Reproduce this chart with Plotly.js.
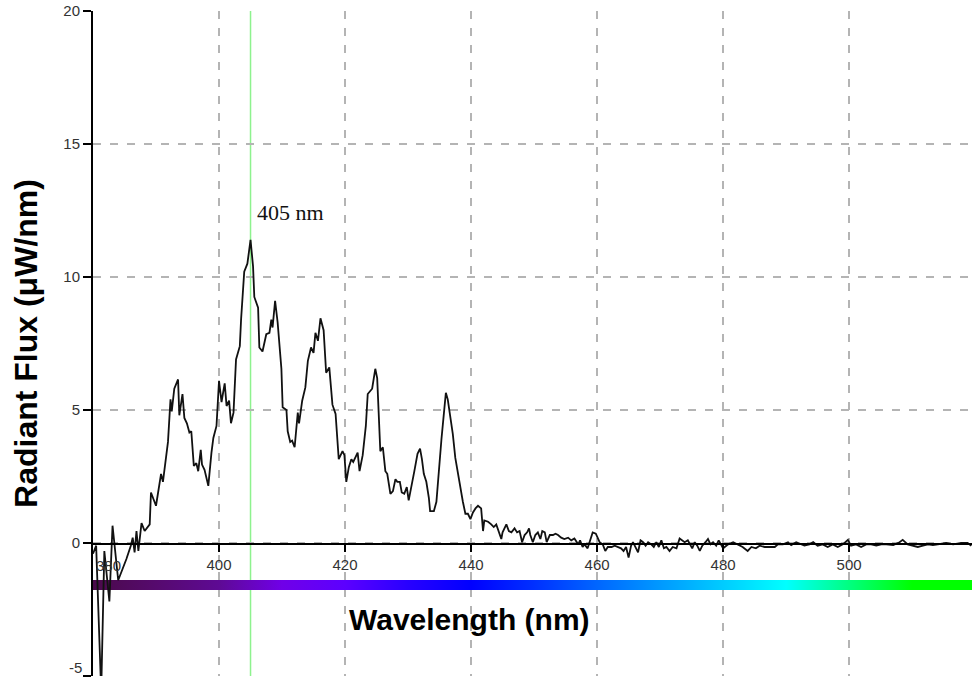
<!DOCTYPE html>
<html>
<head>
<meta charset="utf-8">
<script src="https://cdn.plot.ly/plotly-3.0.1.min.js"></script>
<style>html,body{margin:0;padding:0;background:#fff;}#chart{width:973px;height:678px;}</style>
</head>
<body>
<div id="chart"></div>
<script>
// Spectrum samples (nm, µW/nm)
const wavelength = [
380.0,380.5,381.3,381.8,382.6,383.1,384.0,384.7,385.3,386.0,386.3,386.6,386.9,387.2,387.7,388.2,389.0,389.2,390.0,390.8,
391.1,391.9,392.3,392.5,392.9,393.5,393.7,394.2,394.5,394.9,395.3,395.6,396.0,396.4,396.7,397.1,397.3,397.7,398.3,398.8,
399.1,399.6,400.0,400.4,400.9,401.2,401.6,401.9,402.3,402.7,403.0,403.3,403.5,404.0,404.5,405.0,405.4,405.6,406.2,406.4,
406.9,407.5,408.0,408.3,408.5,408.9,409.3,409.9,410.1,410.7,410.9,411.3,411.6,412.0,412.5,412.7,413.2,413.7,414.1,414.6,
415.0,415.3,415.7,416.1,416.6,417.0,417.5,418.0,418.5,419.0,419.6,419.9,420.2,420.6,421.0,421.3,422.0,422.3,422.8,423.3,
423.6,424.3,424.8,425.1,425.6,426.0,426.4,426.7,427.2,427.6,428.0,428.3,428.7,429.0,429.4,429.8,430.1,430.5,431.0,431.5,
431.9,432.2,432.5,432.9,433.3,433.5,434.1,434.5,434.8,435.3,435.7,436.0,436.3,436.7,437.1,437.5,437.9,438.3,438.7,439.1,
439.5,439.9,440.3,440.7,441.1,441.6,441.9,442.1,442.7,443.2,443.6,444.0,444.4,444.8,445.0,445.6,446.0,446.4,446.9,447.3,
447.7,448.1,448.5,448.9,449.2,449.4,449.8,450.2,450.6,451.0,451.3,451.7,452.0,452.5,453.0,453.4,453.8,454.3,454.8,455.4,
455.9,456.4,457.0,457.3,457.7,458.0,458.5,458.9,459.3,459.8,460.1,460.4,460.9,461.3,461.7,462.3,462.8,463.3,463.8,464.2,
464.6,465.0,465.4,465.7,466.1,466.5,466.9,467.3,467.7,468.1,468.6,469.0,469.4,469.8,470.2,470.6,471.0,471.5,472.0,472.6,
473.1,473.5,473.9,474.4,474.8,475.1,475.5,475.9,476.3,476.7,477.2,477.6,478.0,478.4,478.9,479.3,480.0,480.8,481.6,482.3,
483.1,483.9,484.5,485.2,485.8,486.6,487.4,488.2,488.7,489.5,490.3,490.8,491.6,492.4,492.9,493.7,494.3,495.0,495.8,496.6,
497.4,498.2,499.0,499.8,500.3,501.1,501.9,502.7,503.5,504.3,505.1,505.9,507.0,508.0,508.5,509.3,510.1,510.9,511.7,512.5,
513.3,514.4,515.4,516.5,517.8,518.8,519.4
];
const flux = [
-0.4,-0.1,-5.6,-0.3,-2.2,0.65,-1.4,-1.0,-0.6,-0.1,0.2,-0.35,0.45,-0.3,0.75,0.45,0.7,1.9,1.4,2.6,
2.3,3.8,5.4,4.95,5.8,6.15,4.8,5.6,4.7,4.5,4.15,4.2,2.9,3.0,2.7,3.5,2.95,2.75,2.15,3.4,
3.95,4.4,6.1,5.3,6.0,5.15,5.35,4.5,4.9,6.9,7.2,7.4,8.4,10.2,10.5,11.4,10.4,9.25,8.85,7.35,
7.2,7.85,7.9,8.4,8.1,9.1,8.3,6.55,5.1,5.0,4.2,3.8,3.85,3.6,4.9,4.5,5.35,5.85,6.85,7.35,
7.15,7.9,7.6,8.45,8.0,6.4,6.6,5.2,4.85,3.15,3.45,3.3,2.3,2.85,3.15,3.05,3.4,2.7,3.3,4.4,
5.6,5.8,6.55,6.2,3.45,3.6,2.7,2.6,1.85,1.95,2.4,2.3,2.3,1.9,1.85,2.1,1.6,2.05,2.7,3.35,
3.55,3.15,2.6,2.3,1.7,1.2,1.2,1.55,2.55,3.9,4.9,5.65,5.4,4.8,4.1,3.2,2.65,2.0,1.55,1.1,
1.1,0.9,1.15,1.3,1.4,1.3,0.45,0.85,0.8,0.7,0.6,0.7,0.45,0.15,0.4,0.7,0.45,0.4,0.55,0.4,
0.45,0.03,0.3,0.4,0.55,0.3,0.03,0.3,0.4,0.15,0.45,0.4,0.03,0.3,0.3,0.35,0.3,0.2,0.15,0.2,
0.1,0.17,-0.05,0.1,-0.15,-0.05,-0.2,0.1,0.4,0.35,0.15,0.03,-0.05,-0.3,-0.15,-0.15,-0.1,-0.15,-0.2,-0.3,
-0.15,-0.55,-0.1,0.03,-0.15,-0.35,0.1,0.03,-0.1,0.03,-0.05,-0.15,0.03,-0.15,0.1,-0.2,-0.15,-0.3,-0.15,-0.2,
0.17,0.1,0.03,0.1,-0.05,-0.2,0.03,-0.1,-0.3,-0.1,0.03,0.15,-0.05,0.03,-0.1,0.1,-0.2,-0.05,0.03,-0.05,
-0.15,-0.3,-0.15,-0.2,-0.1,-0.15,-0.15,-0.15,-0.05,-0.05,0.03,-0.08,0.03,-0.05,-0.1,-0.05,0.03,-0.1,-0.05,-0.15,
-0.05,-0.15,-0.05,0.12,-0.1,-0.05,-0.15,-0.05,-0.05,-0.1,-0.05,-0.05,-0.08,0.03,0.12,-0.05,-0.1,-0.15,-0.1,-0.05,
-0.08,-0.05,0,-0.05,0,0,-0.1
];

// Marked peak
const peakWavelength = [405];
const peakLabel = ['405 nm'];

// Axis ticks
const xTickVals = [400, 420, 440, 460, 480, 500];
const xTickText = ['400', '420', '440', '460', '480', '500'];
const yTickVals = [-5, 0, 5, 10, 15, 20];
const yTickText = ['-5', '0', '5', '10', '15', '20'];

// Visible-spectrum colour band stops
const bandWavelengths = [380, 390, 400, 410, 420, 430, 440, 450, 460, 470, 480, 490, 500, 510, 519.5];
const bandColors = ['#4a0a4a', '#560a6e', '#5e0a94', '#7000e8', '#5c00ff', '#2800ff', '#0000ff', '#0030ff',
                    '#0066ff', '#0099ff', '#00ccff', '#00ffff', '#00ff80', '#00ff00', '#00ff00'];

const xMin = 380, xMax = 519.5;
const bandTop = -1.39, bandBottom = -1.77;

const bandScale = bandWavelengths.map((w, i) => [(w - xMin) / (xMax - xMin), bandColors[i]]);

const traces = [
  {
    type: 'scatter', mode: 'lines',
    x: [xMin, xMax, xMax, xMin, xMin],
    y: [bandTop, bandTop, bandBottom, bandBottom, bandTop],
    fill: 'toself',
    fillgradient: {type: 'horizontal', colorscale: bandScale, start: xMin, stop: xMax},
    line: {width: 0},
    hoverinfo: 'skip', showlegend: false
  },
  {
    type: 'scatter', mode: 'lines',
    x: wavelength, y: flux,
    line: {color: '#111111', width: 1.8},
    showlegend: false
  }
];

const layout = {
  width: 973, height: 678,
  margin: {l: 93, r: 1, t: 11, b: 2},
  paper_bgcolor: '#ffffff', plot_bgcolor: '#ffffff',
  showlegend: false,
  font: {family: 'Liberation Sans, Arial, sans-serif', color: '#222222'},
  xaxis: {
    range: [xMin, xMax],
    anchor: 'free', position: 0.2,
    tickvals: xTickVals, ticktext: xTickText,
    ticks: 'outside', ticklen: 7, tickwidth: 1.5, tickcolor: '#000000',
    tickfont: {size: 15, color: '#333333'},
    showline: true, linecolor: '#000000', linewidth: 1.6,
    showgrid: true, gridcolor: '#b4b4b4', gridwidth: 1.5, griddash: '8px,9px',
    zeroline: false
  },
  yaxis: {
    range: [-5, 20],
    tickvals: yTickVals, ticktext: yTickText,
    ticks: 'outside', ticklen: 8, tickwidth: 1.5, tickcolor: '#000000',
    tickfont: {size: 15, color: '#333333'},
    showline: true, linecolor: '#000000', linewidth: 2,
    showgrid: true, gridcolor: '#b4b4b4', gridwidth: 1.5, griddash: '8px,9px',
    zeroline: false,
    title: {text: 'Radiant Flux (μW/nm)', standoff: 16,
            font: {size: 32, family: 'Liberation Sans, Arial, sans-serif', color: '#000000', weight: 'bold'}}
  },
  shapes: [
    {type: 'line', xref: 'x', yref: 'paper', x0: peakWavelength[0], x1: peakWavelength[0], y0: 0, y1: 1,
     line: {color: '#8ef28e', width: 1.5}, layer: 'below'}
  ],
  annotations: [
    {xref: 'x', yref: 'y', x: 411.4, y: 12.43, text: peakLabel[0], showarrow: false,
     font: {family: 'Liberation Serif, Times New Roman, serif', size: 22, color: '#111111'}},
    {xref: 'x', yref: 'y', x: 380.2, y: -0.85, xanchor: 'left', text: xMin.toString(), showarrow: false,
     font: {size: 15, color: '#333333'}},
    {xref: 'paper', yref: 'y', x: 0, y: yTickVals[0], xanchor: 'right', yanchor: 'middle', xshift: -9, yshift: 9,
     text: yTickText[0], showarrow: false, font: {size: 15, color: '#333333'}},
    {xref: 'paper', yref: 'paper', x: 0.4287, y: 0.0857, xanchor: 'center', yanchor: 'middle',
     text: '<b>Wavelength (nm)</b>', showarrow: false,
     font: {size: 30, family: 'Liberation Sans, Arial, sans-serif', color: '#000000'}}
  ]
};

Plotly.newPlot('chart', traces, layout, {staticPlot: true, displayModeBar: false});
</script>
</body>
</html>
